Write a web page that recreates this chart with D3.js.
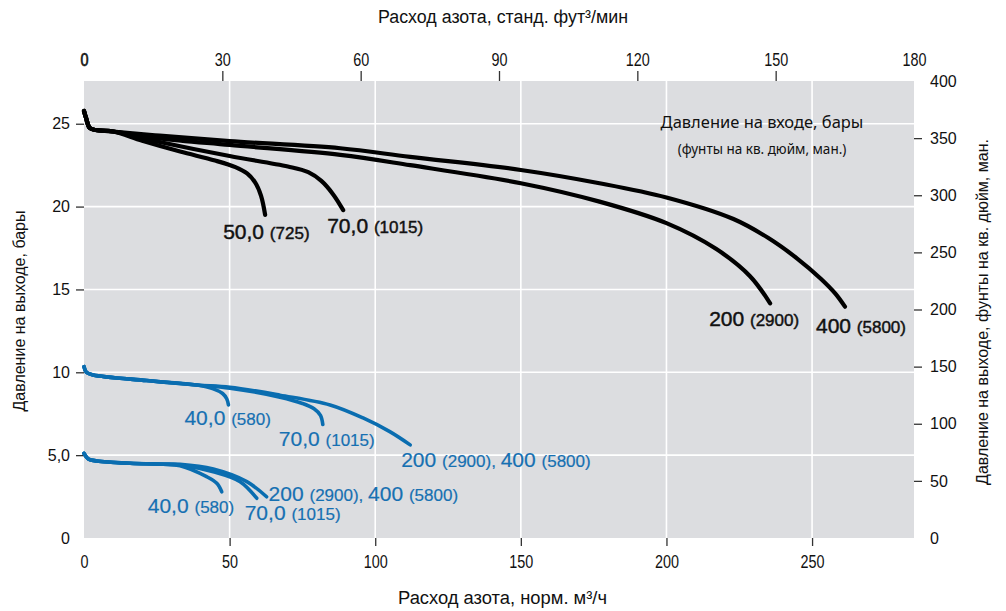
<!DOCTYPE html>
<html>
<head>
<meta charset="utf-8">
<script src="https://cdn.jsdelivr.net/npm/d3@7/dist/d3.min.js"></script>
<style>
  body { margin: 0; background: #ffffff; }
  svg { display: block; }
</style>
</head>
<body>
<svg id="chart" width="1006" height="611"></svg>
<script>
// Flow in normal m3/h, outlet pressure in bar.
// Outlet set near 25 bar, black curves by inlet pressure.
const out25_in50  = [[0,25.77],[0.7,25.35],[2,24.74],[4,24.62],[10,24.53],[20,23.97],[33,23.32],[45,22.78],[52,22.38],[56,22.0],[58.8,21.45],[60.8,20.65],[62.2,19.5]];
const out25_in70  = [[0,25.77],[0.7,25.35],[2,24.74],[4,24.62],[10,24.53],[26,23.9],[50,23.05],[70,22.42],[77,22.08],[81.5,21.55],[85.5,20.75],[89,19.79]];
const out25_in200 = [[0,25.77],[0.7,25.35],[2,24.74],[4,24.62],[10,24.53],[26,24.12],[50,23.72],[88,23.12],[112,22.5],[150,21.41],[177,20.3],[200,19.0],[217,17.45],[228.7,15.8],[235.6,14.16]];
const out25_in400 = [[0,25.77],[0.7,25.35],[2,24.74],[4,24.62],[10,24.53],[26,24.28],[50,23.95],[88,23.52],[112,23.0],[150,22.21],[177,21.41],[200,20.55],[223,19.25],[235,18.1],[245,16.85],[253,15.65],[258,14.75],[261.3,13.96]];

// Outlet set near 10 bar.
const out10_in40  = [[0,10.34],[0.8,10.0],[3.2,9.84],[21.5,9.5],[38.7,9.23],[44.4,9.0],[47.6,8.72],[49.0,8.4],[49.6,8.03]];
const out10_in70  = [[0,10.34],[0.8,10.0],[3.2,9.84],[21.5,9.5],[38.7,9.23],[50.1,9.04],[67.3,8.5],[75,8.12],[79,7.8],[81.2,7.4],[82,6.85]];
const out10_in200 = [[0,10.34],[0.8,10.0],[3.2,9.84],[21.5,9.5],[38.7,9.23],[50.1,9.1],[67.3,8.62],[84.5,8.03],[96,7.23],[105,6.42],[112,5.62]];

// Outlet set near 5 bar.
const out5_in40  = [[0,5.11],[1.5,4.77],[4.4,4.65],[15.8,4.51],[27.2,4.45],[33,4.36],[42.1,3.7],[45.6,3.3],[47.3,2.79]];
const out5_in70  = [[0,5.11],[1.5,4.77],[4.4,4.65],[15.8,4.51],[27.2,4.45],[33,4.4],[44.4,4.0],[53.6,3.4],[59.3,2.4]];
const out5_in200 = [[0,5.11],[1.5,4.77],[4.4,4.65],[15.8,4.51],[27.2,4.46],[33,4.45],[44.4,4.16],[55.9,3.4],[62.7,2.49]];

// Curve labels: main value and value in parentheses.
const labels25 = [["50,0", "(725)"], ["70,0", "(1015)"], ["200", "(2900)"], ["400", "(5800)"]];
const labels10 = [["40,0", "(580)"], ["70,0", "(1015)"], ["200", "(2900), ", "400", "(5800)"]];
const labels5  = [["40,0", "(580)"], ["70,0", "(1015)"], ["200", "(2900), ", "400", "(5800)"]];

// Axis ticks.
const bottomTicks = [0, 50, 100, 150, 200, 250];
const topTicks = [0, 30, 60, 90, 120, 150, 180];
const leftTicks = [0, 5, 10, 15, 20, 25];
const leftTickLabels = ["0", "5,0", "10", "15", "20", "25"];
const rightTicks = [0, 50, 100, 150, 200, 250, 300, 350, 400];

// Layout
const plot = { left: 84, right: 914, top: 81, bottom: 538 };
const black = "#000000", blue = "#0a6db0", blueText = "#1670b2";
const sans = "'Liberation Sans', Arial, Helvetica, sans-serif";
const humanist = "'Noto Sans', 'Open Sans', sans-serif";

const svg = d3.select("#chart");

const x = d3.scaleLinear().domain([0, 285]).range([plot.left, plot.right]);
const xTop = d3.scaleLinear().domain([0, 180]).range([plot.left, plot.right]);
const y = d3.scaleLinear().domain([0, 400 / 14.5038]).range([plot.bottom, plot.top]);
const yPsi = d3.scaleLinear().domain([0, 400]).range([plot.bottom, plot.top]);

// Plot background
svg.append("rect")
  .attr("x", plot.left).attr("y", plot.top)
  .attr("width", plot.right - plot.left).attr("height", plot.bottom - plot.top)
  .attr("fill", "#dcdde0");

// Gridlines
const grid = svg.append("g").attr("stroke", "#ffffff").attr("stroke-width", 1.6);
grid.selectAll("line.v").data(bottomTicks.filter(d => d > 0)).join("line")
  .attr("x1", d => x(d)).attr("x2", d => x(d))
  .attr("y1", plot.top).attr("y2", plot.bottom);
grid.selectAll("line.h").data(leftTicks.filter(d => d > 0)).join("line")
  .attr("x1", plot.left).attr("x2", plot.right)
  .attr("y1", d => y(d)).attr("y2", d => y(d));

// Axes
function styleAxis(g, size, hideTickFor, condensed) {
  g.select(".domain").remove();
  g.selectAll(".tick line").attr("stroke", "#333").attr("stroke-width", 1.3)
    .attr("opacity", d => hideTickFor(d) ? 0 : 1);
  const t = g.selectAll(".tick text").attr("fill", "#111")
    .style("font-family", sans).style("font-size", size + "px");
  if (condensed) {
    t.each(function () {
      const el = d3.select(this);
      el.attr("transform", `translate(0,${el.attr("y")}) scale(0.8,1) translate(0,${-el.attr("y")})`);
    });
  }
}

svg.append("g").attr("transform", `translate(0,${plot.bottom})`)
  .call(d3.axisBottom(x).tickValues(bottomTicks).tickSize(8).tickPadding(9).tickFormat(d3.format("d")))
  .call(g => styleAxis(g, 18, d => d === 0, true));

svg.append("g").attr("transform", `translate(0,${plot.top})`)
  .call(d3.axisTop(xTop).tickValues(topTicks).tickSize(10).tickPadding(5).tickFormat(d3.format("d")))
  .call(g => styleAxis(g, 18, d => d === 0 || d === 180, true))
  .call(g => g.selectAll(".tick text").filter(d => d === 0).attr("stroke", "#111").attr("stroke-width", 0.7));

svg.append("g").attr("transform", `translate(${plot.left},0)`)
  .call(d3.axisLeft(y).tickValues(leftTicks).tickSize(8).tickPadding(6).tickFormat((d, i) => leftTickLabels[i]))
  .call(g => styleAxis(g, 16, d => d === 0, false));

svg.append("g").attr("transform", `translate(${plot.right},0)`)
  .call(d3.axisRight(yPsi).tickValues(rightTicks).tickSize(8).tickPadding(8).tickFormat(d3.format("d")))
  .call(g => styleAxis(g, 16, d => d === 0 || d === 400, false));

// Axis titles
svg.append("text").attr("x", 378).attr("y", 23)
  .attr("textLength", 250).attr("lengthAdjust", "spacingAndGlyphs")
  .style("font-family", sans).style("font-size", "18px").attr("fill", "#111")
  .text("Расход азота, станд. фут³/мин");
svg.append("text").attr("x", 398).attr("y", 604)
  .attr("textLength", 209).attr("lengthAdjust", "spacingAndGlyphs")
  .style("font-family", sans).style("font-size", "18px").attr("fill", "#111")
  .text("Расход азота, норм. м³/ч");
svg.append("text").attr("transform", "translate(25,311) rotate(-90)").attr("text-anchor", "middle")
  .style("font-family", sans).style("font-size", "16px").attr("fill", "#111")
  .text("Давление на выходе, бары");
svg.append("text").attr("transform", "translate(988,312) rotate(-90)").attr("text-anchor", "middle")
  .style("font-family", sans).style("font-size", "16px").attr("fill", "#111")
  .text("Давление на выходе, фунты на кв. дюйм, ман.");

// Inlet pressure caption
svg.append("text").attr("x", 762).attr("y", 128).attr("text-anchor", "middle")
  .style("font-family", humanist).style("font-size", "16.5px").attr("fill", "#111")
  .text("Давление на входе, бары");
svg.append("text").attr("x", 762).attr("y", 154).attr("text-anchor", "middle")
  .style("font-family", humanist).style("font-size", "13.5px").attr("fill", "#111")
  .text("(фунты на кв. дюйм, ман.)");

// Curves
const line = d3.line().x(d => x(d[0])).y(d => y(d[1])).curve(d3.curveCatmullRom.alpha(0.5));

const groups = [
  { series: [out25_in400, out25_in200, out25_in70, out25_in50], color: black, width: 4.2,
    labels: [labels25[3], labels25[2], labels25[1], labels25[0]],
    offsets: [[-29, 26], [-61, 23], [-16, 23], [-42, 24]], textColor: "#111", weight: 0.45 },
  { series: [out10_in200, out10_in70, out10_in40], color: blue, width: 3.6,
    labels: [labels10[2], labels10[1], labels10[0]],
    offsets: [[-9, 22], [-44, 22], [-44, 20]], textColor: blueText, weight: 0.2 },
  { series: [out5_in200, out5_in70, out5_in40], color: blue, width: 3.6,
    labels: [labels5[2], labels5[1], labels5[0]],
    offsets: [[2, 4], [-12, 22], [-74, 21]], textColor: blueText, weight: 0.2 }
];

groups.forEach(grp => {
  const g = svg.append("g");
  g.selectAll("path").data(grp.series).join("path")
    .attr("d", line).attr("fill", "none")
    .attr("stroke", grp.color).attr("stroke-width", grp.width)
    .attr("stroke-linecap", "round").attr("stroke-linejoin", "round");

  grp.series.forEach((s, i) => {
    const end = s[s.length - 1];
    const [dx, dy] = grp.offsets[i];
    const t = g.append("text")
      .attr("x", x(end[0]) + dx).attr("y", y(end[1]) + dy)
      .style("font-family", sans).attr("fill", grp.textColor)
      .attr("stroke", grp.textColor).attr("stroke-width", grp.weight);
    grp.labels[i].forEach((part, k) => {
      const big = k % 2 === 0;
      t.append("tspan")
        .style("font-size", big ? "21px" : "17px")
        .text(big ? part + " " : part);
    });
  });
});
</script>
</body>
</html>
